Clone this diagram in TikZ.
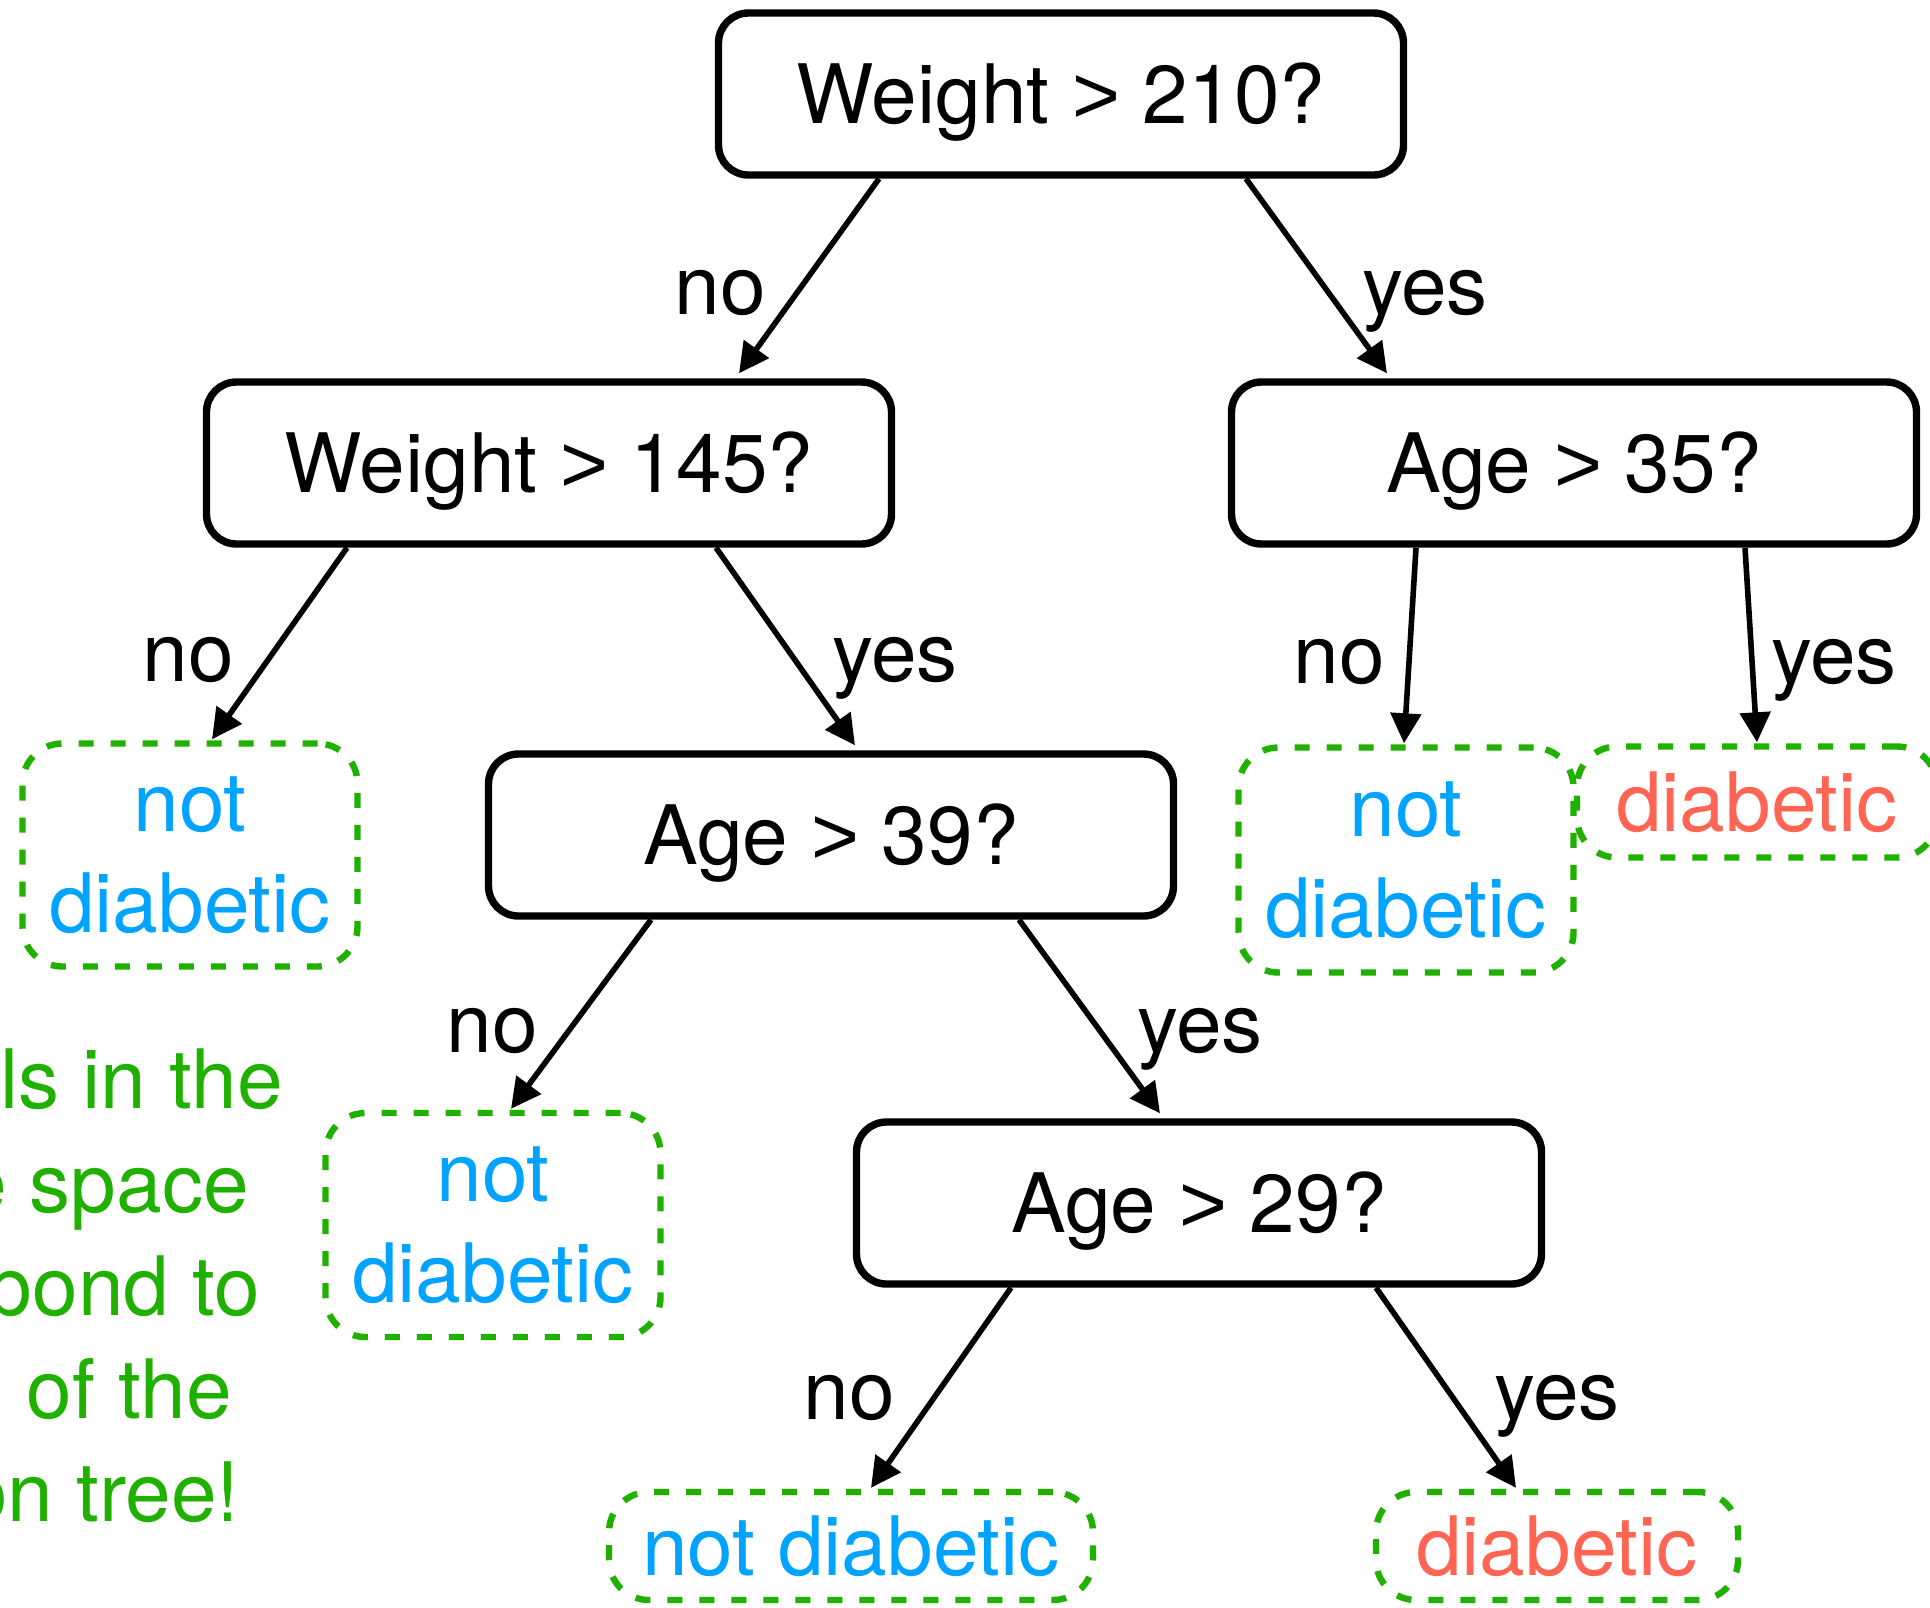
\documentclass[tikz,border=0pt]{standalone}
\usepackage{fontspec}
\setmainfont{TeX Gyre Heros}
\newfontfamily\gtfont{Liberation Sans}
\usetikzlibrary{arrows.meta,calc}
\definecolor{leafgreen}{RGB}{32,176,0}
\definecolor{noblue}{RGB}{0,163,255}
\definecolor{yesred}{RGB}{255,101,82}
% a wide "greater than" sign
\newcommand{\gtsign}{{\gtfont >}}

\begin{document}
\begin{tikzpicture}[x=0.5pt,y=-0.5pt,
  every node/.style={font=\fontsize{41}{50.5}\selectfont},
  testbox/.style={draw=black,line width=3.7pt,rounded corners=15pt,
    minimum width=342.5pt,minimum height=81pt,inner sep=0pt,
    text height=29.4pt,text depth=0pt},
  leafbox/.style={draw=leafgreen,line width=3.2pt,dash pattern=on 7.5pt off 8.5pt,
    rounded corners=20pt,inner sep=0pt,align=center},
  negleaf/.style={leafbox,text=noblue},
  posleaf/.style={leafbox,text=yesred},
  branch/.style={-{Triangle[length=15pt,width=15pt]},line width=2.8pt},
  answer/.style={anchor=base,inner sep=0pt},
  sidenote/.style={anchor=base east,inner sep=0pt,text=leafgreen}
]
\useasboundingbox (0,0) rectangle (1930,1607);
\clip (0,0) rectangle (1930,1607);

% decision nodes
\node[testbox] (root)  at (1061,94)   {Weight \gtsign{} 210?};
\node[testbox] (w145)  at (549,463)   {Weight \gtsign{} 145?};
\node[testbox] (age35) at (1574,463)  {Age \gtsign{} 35?};
\node[testbox] (age39) at (831,835)   {Age \gtsign{} 39?};
\node[testbox] (age29) at (1199,1203) {Age \gtsign{} 29?};

% leaves
\node[negleaf,minimum width=167.5pt,minimum height=111.5pt] (l1) at (190,855)  {not\\diabetic};
\node[negleaf,minimum width=167.5pt,minimum height=112pt]   (l2) at (493,1225) {not\\diabetic};
\node[negleaf,minimum width=167.5pt,minimum height=112.5pt] (l3) at (1406,860) {not\\diabetic};
\node[posleaf,minimum width=180pt,minimum height=55.5pt]    (l4) at (1757,802) {diabetic};
\node[negleaf,minimum width=242pt,minimum height=54pt]      (l5) at (851,1546) {not diabetic};
\node[posleaf,minimum width=181pt,minimum height=54pt]      (l6) at (1557,1546) {diabetic};

% branches
\draw[branch] ($(root.south)+(-182,0)$)  -- ($(w145.north)+(190,-5)$);
\draw[branch] ($(root.south)+(185,0)$)   -- ($(age35.north)+(-187,-5)$);
\draw[branch] ($(w145.south)+(-202,0)$)  -- ($(l1.north)+(22,-1)$);
\draw[branch] ($(w145.south)+(167,0)$)   -- ($(age39.north)+(24,-5)$);
\draw[branch] ($(age35.south)+(-158,0)$) -- ($(l3.north)+(-2,-1)$);
\draw[branch] ($(age35.south)+(171,0)$)  -- ($(l4.north)+(0,-1)$);
\draw[branch] ($(age39.south)+(-180,0)$) -- ($(l2.north)+(18,-1)$);
\draw[branch] ($(age39.south)+(188,0)$)  -- ($(age29.north)+(-39,-5)$);
\draw[branch] ($(age29.south)+(-188,0)$) -- ($(l5.north)+(20,-1)$);
\draw[branch] ($(age29.south)+(177,0)$)  -- ($(l6.north)+(-41,-1)$);

% branch answers
\node[answer] (a1)  at (720,314)   {no};
\node[answer] (a2)  at (1425,314)  {yes};
\node[answer] (a3)  at (188,681)   {no};
\node[answer] (a4)  at (895,681)   {yes};
\node[answer] (a5)  at (1339,683)  {no};
\node[answer] (a6)  at (1834,683)  {yes};
\node[answer] (a7)  at (492,1052)  {no};
\node[answer] (a8)  at (1200,1052) {yes};
\node[answer] (a9)  at (849,1419)  {no};
\node[answer] (a10) at (1557,1419) {yes};

% side note, running off the left edge
\node[sidenote] (n1) at (283,1108) {ls in the};
\node[sidenote] (n2) at (249,1212) {e space};
\node[sidenote] (n3) at (260,1315) {pond to};
\node[sidenote] (n4) at (232,1418) {of the};
\node[sidenote] (n5) at (240,1521) {on tree!};
\end{tikzpicture}
\end{document}
